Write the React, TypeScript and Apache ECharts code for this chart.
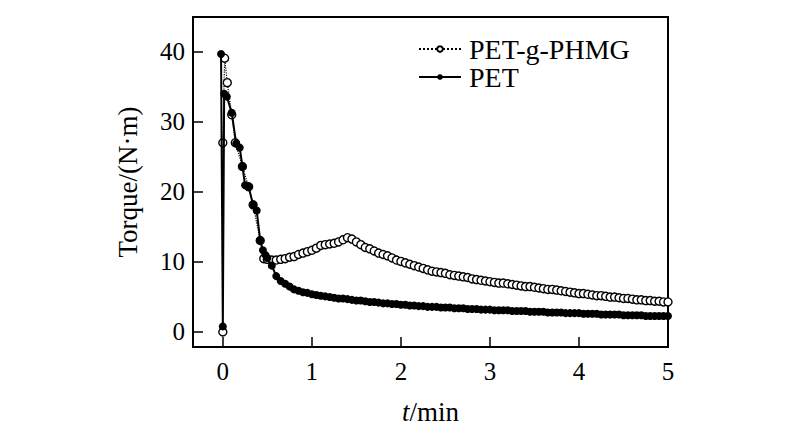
import React, { useEffect, useRef } from "react";
import * as echarts from "echarts";

// PET-g-PHMG: first points around t = 0 (irregular sampling)
const phmgEarlyTime = [0, 0, 0.02, 0.05, 0.1, 0.14, 0.22, 0.29, 0.34, 0.42, 0.46];
const phmgEarlyTorque = [-0.1, 27.0, 39.1, 35.6, 31.0, 27.0, 23.6, 20.7, 18.1, 13.0, 10.4];

// PET: first points around t = 0
const petEarlyTime = [-0.02, 0, 0.015, 0.045, 0.1, 0.15, 0.19, 0.22, 0.25, 0.29, 0.34, 0.38, 0.42, 0.45, 0.48];
const petEarlyTorque = [39.7, 0.7, 34.0, 33.6, 31.3, 26.9, 26.3, 23.6, 20.9, 20.7, 18.1, 17.3, 13.0, 11.6, 10.9];

// Regular sampling (min)
const lateTime = [
  0.5, 0.55, 0.6, 0.65, 0.7, 0.75, 0.8, 0.85, 0.9, 0.95,
  1.0, 1.05, 1.1, 1.15, 1.2, 1.25, 1.3, 1.35, 1.4, 1.45,
  1.5, 1.55, 1.6, 1.65, 1.7, 1.75, 1.8, 1.85, 1.9, 1.95,
  2.0, 2.05, 2.1, 2.15, 2.2, 2.25, 2.3, 2.35, 2.4, 2.45,
  2.5, 2.55, 2.6, 2.65, 2.7, 2.75, 2.8, 2.85, 2.9, 2.95,
  3.0, 3.05, 3.1, 3.15, 3.2, 3.25, 3.3, 3.35, 3.4, 3.45,
  3.5, 3.55, 3.6, 3.65, 3.7, 3.75, 3.8, 3.85, 3.9, 3.95,
  4.0, 4.05, 4.1, 4.15, 4.2, 4.25, 4.3, 4.35, 4.4, 4.45,
  4.5, 4.55, 4.6, 4.65, 4.7, 4.75, 4.8, 4.85, 4.9, 4.95,
  5.0,
];

const phmgLateTorque = [
  10.3, 10.2, 10.2, 10.3, 10.4, 10.6, 10.7, 11.0, 11.2, 11.4,
  11.6, 11.9, 12.3, 12.4, 12.5, 12.6, 12.8, 13.1, 13.4, 13.2,
  12.8, 12.4, 12.0, 11.8, 11.5, 11.2, 11.0, 10.8, 10.5, 10.2,
  10.0, 9.8, 9.6, 9.4, 9.2, 9.0, 8.8, 8.6, 8.5, 8.4,
  8.3, 8.1, 8.0, 7.9, 7.8, 7.7, 7.5, 7.4, 7.3, 7.2,
  7.1, 7.0, 6.9, 6.9, 6.8, 6.7, 6.6, 6.5, 6.4, 6.4,
  6.3, 6.2, 6.1, 6.0, 6.0, 5.9, 5.8, 5.7, 5.6, 5.5,
  5.4, 5.4, 5.3, 5.2, 5.1, 5.1, 5.0, 4.9, 4.9, 4.8,
  4.7, 4.7, 4.6, 4.5, 4.5, 4.4, 4.4, 4.3, 4.3, 4.2,
  4.2,
];

const petLateTorque = [
  10.5, 9.4, 7.9, 7.2, 6.8, 6.4, 6.0, 5.8, 5.6, 5.5,
  5.3, 5.2, 5.1, 5.0, 4.9, 4.8, 4.7, 4.7, 4.6, 4.5,
  4.4, 4.4, 4.3, 4.2, 4.2, 4.1, 4.0, 4.0, 3.9, 3.9,
  3.8, 3.8, 3.7, 3.7, 3.6, 3.6, 3.5, 3.5, 3.5, 3.4,
  3.4, 3.4, 3.3, 3.3, 3.3, 3.2, 3.2, 3.2, 3.1, 3.1,
  3.1, 3.0, 3.0, 3.0, 3.0, 2.9, 2.9, 2.9, 2.9, 2.8,
  2.8, 2.8, 2.8, 2.7, 2.7, 2.7, 2.7, 2.6, 2.6, 2.6,
  2.6, 2.5, 2.5, 2.5, 2.5, 2.4, 2.4, 2.4, 2.4, 2.4,
  2.3, 2.3, 2.3, 2.3, 2.3, 2.2, 2.2, 2.2, 2.2, 2.2,
  2.2,
];

const xTicks = [0, 1, 2, 3, 4, 5];
const yTicks = [0, 10, 20, 30, 40];

const seriesNames = ["PET-g-PHMG", "PET"];

const FONT = "'Liberation Serif', 'Times New Roman', serif";

function pairs(t: number[], v: number[]) {
  return t.map((x, i) => [x, v[i]]);
}

export default function App() {
  const ref = useRef<HTMLDivElement>(null);
  useEffect(() => {
    if (!ref.current) return;
    const chart = echarts.init(ref.current, undefined, { renderer: "svg" });
    const phmgData = pairs(phmgEarlyTime, phmgEarlyTorque).concat(pairs(lateTime, phmgLateTorque));
    const petData = pairs(petEarlyTime, petEarlyTorque).concat(pairs(lateTime, petLateTorque));
    chart.setOption({
      animation: false,
      backgroundColor: "#fff",
      textStyle: { fontFamily: FONT, color: "#000" },
      grid: {
        left: 193,
        right: 132,
        top: 17,
        bottom: 87,
        show: true,
        borderColor: "#000",
        borderWidth: 2,
        backgroundColor: "transparent",
      },
      legend: {
        orient: "vertical",
        left: 418,
        top: 35,
        padding: 0,
        itemGap: 0,
        itemWidth: 42,
        itemHeight: 7,
        data: seriesNames,
        textStyle: {
          fontFamily: FONT,
          fontSize: 28,
          lineHeight: 26,
          color: "#000",
          padding: [0, 0, 0, 3],
        },
      },
      xAxis: {
        type: "value",
        min: -0.335,
        max: 5,
        name: "{i|t}/min",
        nameLocation: "middle",
        nameGap: 51,
        nameTextStyle: {
          fontFamily: FONT,
          fontSize: 27,
          color: "#000",
          rich: { i: { fontFamily: FONT, fontSize: 27, fontStyle: "italic", color: "#000" } },
        },
        axisLine: { show: false, onZero: false },
        axisTick: {
          show: true,
          inside: true,
          length: 10,
          lineStyle: { color: "#000", width: 1.5 },
          customValues: xTicks,
        },
        axisLabel: {
          show: true,
          margin: 12,
          fontFamily: FONT,
          fontSize: 25,
          color: "#000",
          customValues: xTicks,
        },
        splitLine: { show: false },
      },
      yAxis: {
        type: "value",
        min: -2.25,
        max: 45,
        name: "Torque/(N·m)",
        nameLocation: "middle",
        nameGap: 52,
        nameTextStyle: { fontFamily: FONT, fontSize: 27, color: "#000" },
        axisLine: { show: false, onZero: false },
        axisTick: {
          show: true,
          inside: true,
          length: 10,
          lineStyle: { color: "#000", width: 1.5 },
          customValues: yTicks,
        },
        axisLabel: {
          show: true,
          margin: 8,
          fontFamily: FONT,
          fontSize: 25,
          color: "#000",
          customValues: yTicks,
        },
        splitLine: { show: false },
      },
      series: [
        {
          name: seriesNames[0],
          type: "line",
          data: phmgData,
          symbol: "circle",
          symbolSize: 8,
          showAllSymbol: true,
          itemStyle: { color: "#fff", borderColor: "#000", borderWidth: 1.4 },
          lineStyle: { color: "#000", width: 1.2, type: "dotted" },
          emphasis: { disabled: true },
          z: 2,
        },
        {
          name: seriesNames[1],
          type: "line",
          data: petData,
          symbol: "circle",
          symbolSize: 8,
          showAllSymbol: true,
          itemStyle: { color: "#000", borderColor: "#000", borderWidth: 0 },
          lineStyle: { color: "#000", width: 2, type: "solid" },
          emphasis: { disabled: true },
          z: 3,
        },
      ],
    });
    return () => chart.dispose();
  }, []);
  return (
    <div
      ref={ref}
      style={{ position: "fixed", left: 0, top: 0, width: 800, height: 434 }}
    />
  );
}
